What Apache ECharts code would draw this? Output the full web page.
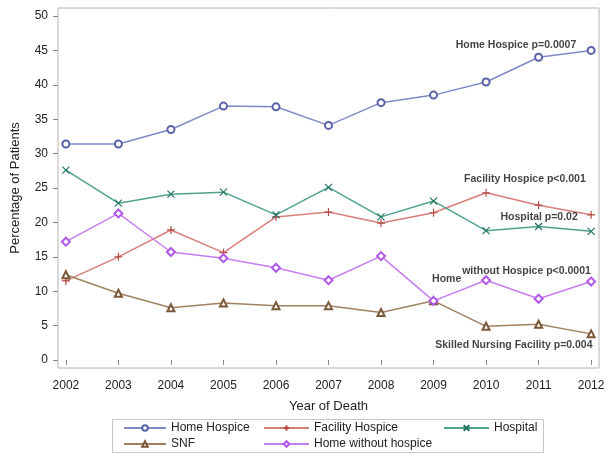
<!DOCTYPE html>
<html><head><meta charset="utf-8">
<script src="https://cdn.jsdelivr.net/npm/echarts@6/dist/echarts.min.js"></script>
<style>html,body{margin:0;padding:0;background:#fff;}#c{width:611px;height:461px;}</style>
</head><body><div id="c"></div>
<script>
const years = [2002,2003,2004,2005,2006,2007,2008,2009,2010,2011,2012];
const homeHospice = [31.4,31.4,33.5,36.9,36.8,34.1,37.4,38.5,40.4,44.0,45.0];
const facilityHospice = [11.5,15.0,18.9,15.6,20.8,21.5,19.9,21.4,24.3,22.5,21.1];
const hospital = [27.6,22.8,24.1,24.4,21.1,25.1,20.8,23.1,18.8,19.4,18.7];
const snf = [12.4,9.7,7.6,8.3,7.9,7.9,6.9,8.6,4.9,5.2,3.8];
const homeWithout = [17.2,21.3,15.7,14.8,13.4,11.6,15.1,8.6,11.6,8.9,11.4];
const yTicks = [0,5,10,15,20,25,30,35,40,45,50];
const annotations = [
  [2010.57, 45.8, 'Home Hospice p=0.0007'],
  [2010.74, 26.26, 'Facility Hospice p<0.001'],
  [2011.01, 20.83, 'Hospital p=0.02'],
  [2009.25, 11.82, 'Home'],
  [2010.77, 12.89, 'without Hospice p<0.0001'],
  [2010.53, 2.14, 'Skilled Nursing Facility p=0.004']
];

const plusPath = 'path://M5,0L5,10M0,5L10,5';
const xPath = 'path://M0,0L10,10M0,10L10,0';
function pair(arr){ return years.map((y,i)=>[y,arr[i]]); }
function mk(name, data, symbol, lineColor, markColor, size){
  return {
    name, type:'line', data:pair(data), symbol, symbolSize:size||7,
    lineStyle:{color:lineColor, width:1.5},
    itemStyle:{color:markColor, borderColor:markColor, borderWidth:1.2},
    emphasis:{disabled:true}, z:3
  };
}
const font = 'Liberation Sans, Arial, sans-serif';
const legendCommon = {orient:'vertical', itemWidth:42, itemHeight:7, itemGap:4, padding:0, top:422,
  textStyle:{fontFamily:font, fontSize:12, color:'#222'}, selectedMode:false};
const chart = echarts.init(document.getElementById('c'), null, {renderer:'canvas'});
chart.setOption({
  animation:false,
  backgroundColor:'#fff',
  grid:{left:58, right:12, top:8, bottom:93, show:true, borderColor:'#b4b4b4', borderWidth:1},
  xAxis:{
    type:'value', min:2001.85, max:2012.15,
    name:'Year of Death', nameLocation:'middle', nameGap:32,
    nameTextStyle:{fontFamily:font, fontSize:13, color:'#222'},
    axisLine:{show:false},
    axisTick:{show:true, length:5, customValues:years, lineStyle:{color:'#888'}},
    axisLabel:{customValues:years, fontFamily:font, fontSize:12, color:'#222', margin:12, formatter:v=>String(Math.round(v))},
    splitLine:{show:false}
  },
  yAxis:{
    type:'value', min:-1.16, max:51.16,
    name:'Percentage of Patients', nameLocation:'middle', nameGap:36,
    nameTextStyle:{fontFamily:font, fontSize:13, color:'#222'},
    axisLine:{show:false},
    axisTick:{show:true, length:5, customValues:yTicks, lineStyle:{color:'#888'}},
    axisLabel:{customValues:yTicks, fontFamily:font, fontSize:12, color:'#222', margin:10, formatter:v=>String(Math.round(v))},
    splitLine:{show:false}
  },
  legend:[
    Object.assign({data:['Home Hospice','SNF'], left:123}, legendCommon),
    Object.assign({data:['Facility Hospice','Home without hospice'], left:263}, legendCommon, {itemWidth:45}),
    Object.assign({data:['Hospital'], left:443}, legendCommon, {itemWidth:45})
  ],
  graphic:[{type:'rect', shape:{x:112.5, y:419.5, width:431, height:33}, style:{fill:'none', stroke:'#c8c8c8', lineWidth:1}, silent:true}],
  series:[
    mk('Home Hospice', homeHospice, 'emptyCircle', '#7f89c8', '#5862a8'),
    mk('Facility Hospice', facilityHospice, plusPath, '#d97f7a', '#b84a45', 8),
    mk('Hospital', hospital, xPath, '#4fa28e', '#237563', 7),
    mk('SNF', snf, 'emptyTriangle', '#a08262', '#7a5838'),
    mk('Home without hospice', homeWithout, 'emptyDiamond', '#c77ef2', '#b058e8', 8),
    {
      name:'annotations', type:'scatter', data:annotations, symbolSize:0, silent:true, z:5,
      label:{show:true, position:'inside', formatter:p=>p.data[2], fontFamily:font, fontSize:10.5, fontWeight:'bold', color:'#111'}
    }
  ]
});
</script></body></html>
